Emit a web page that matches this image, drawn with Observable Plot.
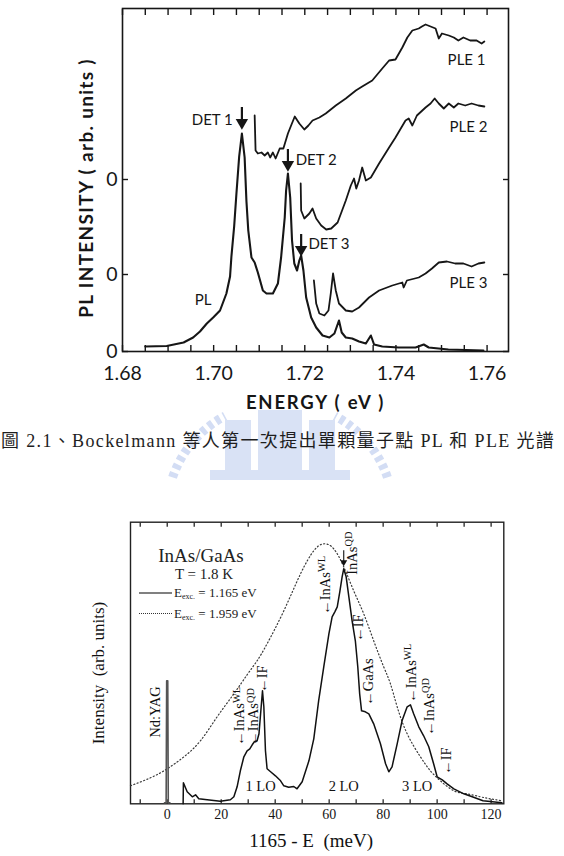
<!DOCTYPE html>
<html>
<head>
<meta charset="utf-8">
<script src="https://cdn.jsdelivr.net/npm/d3@7"></script>
<script src="https://cdn.jsdelivr.net/npm/@observablehq/plot@0.6"></script>
<style>
  html, body { margin: 0; padding: 0; background: #fff; }
  body { width: 564px; height: 856px; position: relative; overflow: hidden; }
  #top { position: absolute; left: 0; top: 0; }
  #bottom { position: absolute; left: 0; top: 480px; }
  #wm { position: absolute; left: 150px; top: 398px; }
  #caption { position: absolute; left: 1px; top: 430px; font-family: "Liberation Serif", "Noto Sans CJK TC"; font-size: 18px; line-height: 22px; letter-spacing: 1.35px; white-space: nowrap; color: #1e1e1e; }
  .lg { position: absolute; font-family: "Liberation Serif", serif; color: #222; white-space: nowrap; }
  .lg sub { font-size: 8px; vertical-align: -2px; }
</style>
</head>
<body>
<div id="top"></div>
<svg id="wm" width="260" height="90" viewBox="0 0 260 90">
  <g fill="none" stroke="#d3ddf4" stroke-width="9">
    <path d="M20,88 A110,110 0 0 1 75,18" stroke-dasharray="5,4"/>
    <path d="M240,88 A110,110 0 0 0 185,18" stroke-dasharray="5,4"/>
  </g>
  <g fill="#d9e2f5">
    <rect x="75" y="22" width="26" height="62"/>
    <rect x="108" y="12" width="44" height="72"/>
    <rect x="159" y="22" width="26" height="62"/>
    <rect x="60" y="72" width="140" height="14"/>
  </g>
</svg>
<div id="caption">圖 2.1、Bockelmann 等人第一次提出單顆量子點 PL 和 PLE 光譜</div>
<div id="bottom"></div>
<div class="lg" style="left:141px;top:545px;width:120px;text-align:center;font-size:19px;line-height:22px;">InAs/GaAs</div>
<div class="lg" style="left:154px;top:565px;width:100px;text-align:center;font-size:15px;line-height:18px;">T = 1.8 K</div>
<div class="lg" style="left:139px;top:592px;width:33px;height:0;border-top:2px solid #808080;"></div>
<div class="lg" style="left:174px;top:585px;font-size:13px;line-height:16px;">E<sub>exc.</sub> = 1.165 eV</div>
<div class="lg" style="left:139px;top:613px;width:33px;height:0;border-top:1.5px dotted #333;"></div>
<div class="lg" style="left:174px;top:606px;font-size:13px;line-height:16px;">E<sub>exc.</sub> = 1.959 eV</div>
<script>
// ================= TOP CHART DATA (energy in eV, intensity in arb. units) =================
const topXTicks = [1.68,1.685,1.69,1.695,1.70,1.705,1.71,1.715,1.72,1.725,1.73,1.735,1.74,1.745,1.75,1.755,1.76];
const topXLabels = [1.68,1.70,1.72,1.74,1.76];
const topZeroTicks = [0,77,172];

const plEnergy = [1.685,1.6897,1.6934,1.6955,1.697,1.6985,1.6999,1.7014,1.7028,1.7036,1.7039,1.7045,1.705,1.7056,1.7062,1.7068,1.7072,1.7076,1.7083,1.709,1.7097,1.7108,1.7116,1.713,1.7141,1.7148,1.7156,1.7159,1.7163,1.7168,1.7172,1.7177,1.7183,1.7188,1.7192,1.7197,1.7203,1.7214,1.7225,1.7239,1.7254,1.7265,1.7275,1.7281,1.729,1.7304,1.7319,1.7334,1.7345,1.7352,1.737,1.7406,1.7443,1.7461,1.7472,1.7515,1.7592];
const plIntensity = [5,5.5,9,14,20,28,34,41,58,75,95,125,158,195,218,194,150,121,94,89,79,61,58,58,68,94,134,161,178,154,111,88,81,91,96,81,54,34,24,16,14,18,31,19,14,13,10,8,16,7,5,4,4,7,4,2,1];

const ple1Energy = [1.709,1.7092,1.7097,1.7105,1.7112,1.7119,1.7124,1.713,1.7136,1.7145,1.7153,1.7163,1.717,1.7178,1.7188,1.7199,1.7208,1.7217,1.7232,1.7246,1.7268,1.729,1.7312,1.7326,1.7348,1.737,1.7385,1.7399,1.7414,1.7425,1.7436,1.745,1.7457,1.7465,1.7476,1.7487,1.7494,1.7501,1.7516,1.7527,1.7537,1.7548,1.7563,1.7577,1.7588,1.7594];
const ple1Intensity = [236,201,198,199,196,199,194,199,193,203,203,218,226,235,228,222,226,231,234,238,246,253,261,265,271,283,291,292,304,314,321,323,325,327,325,323,313,318,316,314,311,314,311,311,308,310];

const ple2Energy = [1.7191,1.7192,1.7199,1.721,1.7217,1.7225,1.7236,1.7247,1.7258,1.7272,1.729,1.7301,1.7308,1.7313,1.7319,1.7326,1.7334,1.7345,1.7363,1.7385,1.7399,1.7421,1.7428,1.7436,1.7446,1.7465,1.7476,1.7485,1.7494,1.7505,1.7516,1.7527,1.7537,1.7552,1.7566,1.7581,1.7594];
const ple2Intensity = [168,141,133,138,143,133,126,122,123,129,151,166,173,163,171,184,171,174,188,204,214,231,233,226,236,244,248,253,248,243,248,244,248,246,248,246,245];

const ple3Energy = [1.722,1.7225,1.7232,1.7243,1.7252,1.7257,1.7262,1.7268,1.7275,1.729,1.7304,1.7319,1.7341,1.7363,1.7392,1.7414,1.7417,1.7424,1.745,1.7465,1.7479,1.7494,1.7512,1.753,1.7548,1.7566,1.7581,1.7594];
const ple3Intensity = [71,48,38,36,41,58,78,61,48,41,40,44,54,61,66,69,64,71,74,78,83,89,90,88,88,85,88,89];

// detection arrows (energy, tail, tip) and labels
const detEnergy = [1.7062,1.7163,1.7192];
const detTail = [244,202,117];
const detTip = [226,184,99];
const detLabelText = ["DET 1","DET 2","DET 3"];
const detLabelEnergy = [1.7042,1.7180,1.7208];
const detLabelIntensity = [231,191,107];
const seriesLabelText = ["PL","PLE 1","PLE 2","PLE 3"];
const seriesLabelEnergy = [1.6977,1.7555,1.7559,1.7559];
const seriesLabelIntensity = [51,291,224,68];

// ================= BOTTOM CHART DATA (1165 - E in meV, intensity in arb. units) =================
const botXTicks = [-10,0,10,20,30,40,50,60,70,80,90,100,110,120];
const botXLabels = [0,20,40,60,80,100,120];

const laserShift = [-1,-0.4,-0.2,0.2,0.4,1];
const laserIntensity = [1,1,123,123,1,1];

const solidShift = [5.9,6.0,7.4,9.3,10.5,11.7,14.8,19.7,23.4,24.7,25.9,27.1,28.4,29.6,30.6,31.5,32.3,33.3,34,34.6,35.3,35.8,36.4,37,38.3,40.1,42,43.2,45,46.9,48.1,50,52.5,54.3,56.1,58,59.9,61.1,62.1,63,64,64.8,65.4,66.3,67.3,68.5,69.7,70.6,71.3,72,73.4,74.7,76.5,79,80.9,82.1,83.3,85.2,87,88.9,90.1,91.3,93.2,95,96.9,98.7,100,101.9,103.7,106.2,109.9,113.5,117,124];
const solidIntensity = [0,21,12,7,9,5,4,2.5,4,7,17,33,47,53,55,59,62,63,70,90,113,97,53,35,32,28,23,18,16.6,17.3,15,22,43,65,103,137,170,187,192,197,213,227,235,227,207,183,163,137,110,93,92,90,80,60,40,32,37,60,83,97,99,90,77,68,57,40,27,24,20,15,10,6.6,3,1];

const dottedShift = [-13.6,-6.2,0,6.2,12.3,18.5,24.7,29.6,33.3,37,43.2,49.4,54.3,58,61.7,65.4,69.1,72.8,76.5,80.2,82.7,85.2,88.9,93.8,97.5,101.2,106.2,111,116,119.7,124];
const dottedIntensity = [18,26,35,47,63,87,110,129,143,160,193,230,253,260,255,237,213,190,163,137,120,97,70,47,33,23,13,10,7,5,3];

// vertical (rotated) annotations
const noteText = ["Nd:YAG","←InAs^WL","←InAs^QD","←IF","←InAs^WL","InAs^QD","←IF","←GaAs","←InAs^WL","←InAs^QD","←IF"];
const noteShift = [-4.3,26.8,32.1,35.3,58.6,68.6,70.8,74.5,90.3,97.1,103.4];
const noteIntensity = [66,58,58,111,189,229,162,98,101,68,29];
const peakArrowShift = [65.4];
const peakArrowTail = [253];
const peakArrowTip = [240];
const loText = ["1 LO","2 LO","3 LO"];
const loShift = [34.6,65.4,92.6];
const loIntensity = [17,17,17];

// ================= BUILD TABLES =================
const zip = (name, xs, ys) => xs.map((x, i) => ({name, x, y: ys[i]}));
const topLines = [
  zip("PL", plEnergy, plIntensity),
  zip("PLE 1", ple1Energy, ple1Intensity),
  zip("PLE 2", ple2Energy, ple2Intensity),
  zip("PLE 3", ple3Energy, ple3Intensity)
];
const detArrows = detEnergy.map((e, i) => ({x: e, tail: detTail[i], tip: detTip[i]}));
const detLabels = detLabelText.map((t, i) => ({text: t, x: detLabelEnergy[i], y: detLabelIntensity[i]}));
const seriesLabels = seriesLabelText.map((t, i) => ({text: t, x: seriesLabelEnergy[i], y: seriesLabelIntensity[i]}));

const topFont = "Lato, 'Open Sans', sans-serif";
const ink = "#161616";

const topChart = Plot.plot({
  width: 564, height: 415,
  marginLeft: 122, marginRight: 56, marginTop: 8, marginBottom: 64,
  x: {domain: [1.68, 1.7647], label: null},
  y: {domain: [0, 343], label: null},
  style: {fontFamily: topFont, color: ink, background: "white", overflow: "visible"},
  marks: [
    Plot.frame({stroke: ink, strokeWidth: 1.6}),
    Plot.axisX({anchor: "bottom", ticks: topXTicks, tickSize: -6, tickFormat: () => "", label: null, strokeWidth: 1.4}),
    Plot.axisX({anchor: "top", ticks: topXTicks, tickSize: -6, tickFormat: () => "", label: null, strokeWidth: 1.4}),
    Plot.axisX({anchor: "bottom", ticks: topXLabels, tickSize: 0, tickPadding: 15, tickFormat: d => d.toFixed(2), label: null, fontSize: 19.5}),
    Plot.axisY({anchor: "left", ticks: topZeroTicks, tickSize: -6, tickFormat: () => "", label: null, strokeWidth: 1.4}),
    Plot.axisY({anchor: "right", ticks: topZeroTicks, tickSize: -6, tickFormat: () => "", label: null, strokeWidth: 1.4}),
    Plot.axisY({anchor: "left", ticks: topZeroTicks, tickSize: 0, tickPadding: 5, tickFormat: () => "0", label: null, fontSize: 19.5}),
    ...topLines.map((d, i) => Plot.line(d, {x: "x", y: "y", stroke: ink, strokeWidth: i === 0 ? 2.1 : 1.8, strokeLinejoin: "round"})),
    Plot.ruleX(detArrows, {x: "x", y1: "tail", y2: "tip", stroke: ink, strokeWidth: 2.2}),
    Plot.dot(detArrows, {x: "x", y: "tip", symbol: "triangle", rotate: 180, r: 4.6, fill: ink, stroke: "none", dy: -3}),
    Plot.text(detLabels.filter(d => d.text === "DET 1"), {x: "x", y: "y", text: "text", textAnchor: "end", fontSize: 15, fill: ink}),
    Plot.text(detLabels.filter(d => d.text !== "DET 1"), {x: "x", y: "y", text: "text", textAnchor: "start", fontSize: 15, fill: ink}),
    Plot.text(seriesLabels, {x: "x", y: "y", text: "text", textAnchor: "middle", fontSize: 15, fill: ink}),
    Plot.text(["PL INTENSITY ( arb. units )"], {frameAnchor: "left", textAnchor: "middle", lineAnchor: "middle", rotate: -90, dx: -36, dy: 8, fontSize: 19, fontWeight: "bold", fill: ink}),
    Plot.text(["ENERGY ( eV )"], {frameAnchor: "bottom", textAnchor: "middle", lineAnchor: "middle", dy: 52, fontSize: 18.5, fontWeight: "bold", fill: ink})
  ]
});
d3.select(topChart).selectAll("text").each(function() {
  const t = this.textContent;
  if (t === "PL INTENSITY ( arb. units )") d3.select(this).attr("letter-spacing", "1.3");
  if (t === "ENERGY ( eV )") d3.select(this).attr("letter-spacing", "1.8");
});
document.getElementById("top").appendChild(topChart);

// ----- bottom -----
const laser = zip("laser", laserShift, laserIntensity);
const solid = zip("solid", solidShift, solidIntensity);
const dotted = zip("dotted", dottedShift, dottedIntensity);
const notes = noteText.map((t, i) => ({text: t, x: noteShift[i], y: noteIntensity[i]}));
const peakArrow = peakArrowShift.map((x, i) => ({x, tail: peakArrowTail[i], tip: peakArrowTip[i]}));
const loLabels = loText.map((t, i) => ({text: t, x: loShift[i], y: loIntensity[i]}));

const serif = "'Liberation Serif', 'Times New Roman', serif";
const botChart = Plot.plot({
  width: 564, height: 376,
  marginLeft: 130, marginRight: 60.7, marginTop: 41.7, marginBottom: 52.7,
  x: {domain: [-13.6, 124.7], label: null},
  y: {domain: [0, 281.6], label: null, axis: null},
  style: {fontFamily: serif, color: ink, background: "white", overflow: "visible"},
  marks: [
    Plot.frame({stroke: "#222", strokeWidth: 1.4}),
    Plot.axisX({anchor: "bottom", ticks: botXTicks, tickSize: -4, tickFormat: () => "", label: null, strokeWidth: 1.2}),
    Plot.axisX({anchor: "top", ticks: botXTicks, tickSize: -4, tickFormat: () => "", label: null, strokeWidth: 1.2}),
    Plot.axisX({anchor: "bottom", ticks: botXLabels, tickSize: 0, tickPadding: 5, tickFormat: d => String(d), label: null, fontSize: 14}),
    Plot.line(dotted, {x: "x", y: "y", stroke: "#3a3a3a", strokeWidth: 1.2, strokeDasharray: "1.1,2.4", curve: "natural"}),
    Plot.line(laser, {x: "x", y: "y", stroke: "#555", strokeWidth: 1.6}),
    Plot.line(solid, {x: "x", y: "y", stroke: "#111", strokeWidth: 1.5, strokeLinejoin: "round"}),
    Plot.text(notes, {x: "x", y: "y", text: "text", rotate: -90, textAnchor: "start", fontSize: 14.5, fill: "#111"}),
    Plot.ruleX(peakArrow, {x: "x", y1: "tail", y2: "tip", stroke: "#111", strokeWidth: 1.1}),
    Plot.dot(peakArrow, {x: "x", y: "tip", symbol: "triangle", rotate: 180, r: 2.6, fill: "#111", stroke: "none", dy: -1.5}),
    Plot.text(loLabels, {x: "x", y: "y", text: "text", fontSize: 14.5, fill: "#111"}),
    Plot.text(["Intensity  (arb. units)"], {frameAnchor: "left", textAnchor: "middle", lineAnchor: "middle", rotate: -90, dx: -32, dy: 10, fontSize: 17, fill: "#111"}),
    Plot.text(["1165 - E  (meV)"], {frameAnchor: "bottom", textAnchor: "middle", lineAnchor: "middle", dy: 37, dx: -6, fontSize: 19, fill: "#111"})
  ]
});
d3.select(botChart).selectAll("text").each(function() {
  const t = this.textContent;
  if (t.includes("^")) {
    const [a, b] = t.split("^");
    this.textContent = "";
    d3.select(this).append("tspan").text(a);
    d3.select(this).append("tspan").attr("dy", "-0.45em").attr("font-size", "0.72em").text(b);
  }
});
document.getElementById("bottom").appendChild(botChart);
</script>
</body>
</html>
